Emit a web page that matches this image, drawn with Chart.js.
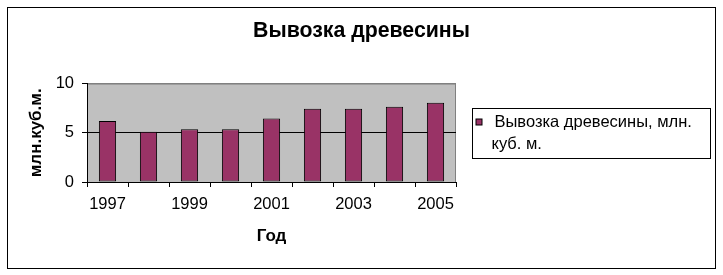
<!DOCTYPE html>
<html lang="ru">
<head>
<meta charset="utf-8">
<title>Вывозка древесины</title>
<script src="https://cdn.jsdelivr.net/npm/chart.js@4"></script>
<style>
  html, body { margin: 0; padding: 0; background: #fff; }
  #wrap { position: relative; width: 723px; height: 275px; }
</style>
</head>
<body>
<div id="wrap"><canvas id="chart"></canvas></div>
<script>
// data
const years = ["1997", "1998", "1999", "2000", "2001", "2002", "2003", "2004", "2005"];
const volumes = [6.2, 5.1, 5.35, 5.35, 6.45, 7.45, 7.45, 7.65, 8.05];
const yTicks = [0, 5, 10];
const chartTitle = "Вывозка древесины";
const seriesLabel = "Вывозка древесины, млн. куб. м.";
const xTitle = "Год";
const yTitle = "млн.куб.м.";

const FONT = "'Liberation Sans', Arial, sans-serif";
const BAR = "#993366";
const PLOT_BG = "#c0c0c0";

// white page, outer frame and grey plot area
const frame = {
  id: "frame",
  beforeDraw(chart) {
    const { ctx, chartArea: a } = chart;
    ctx.save();
    ctx.fillStyle = "#fff";
    ctx.fillRect(0, 0, chart.width, chart.height);
    ctx.strokeStyle = "#000";
    ctx.lineWidth = 1;
    ctx.strokeRect(7.5, 7.5, 708, 261);
    ctx.fillStyle = PLOT_BG;
    ctx.fillRect(a.left, a.top, a.right - a.left, a.bottom - a.top);
    ctx.strokeStyle = "#808080";
    ctx.beginPath();
    ctx.moveTo(a.left, a.top + 0.5);
    ctx.lineTo(a.right - 0.5, a.top + 0.5);
    ctx.lineTo(a.right - 0.5, a.bottom);
    ctx.stroke();
    ctx.restore();
  },
};

// legend in a boxed panel to the right of the plot
function drawLegend(chart, box) {
  const { ctx, chartArea: a } = chart;
  const ds = chart.data.datasets[0];
  const left = box.left + 16.5;
  const w = 238, h = 50;
  const top = Math.round((a.top + a.bottom) / 2 - h / 2) + 0.5;
  ctx.save();
  ctx.strokeStyle = "#000";
  ctx.lineWidth = 1;
  ctx.strokeRect(left, top, w, h);

  ctx.font = "16.5px " + FONT;
  ctx.textBaseline = "middle";
  ctx.fillStyle = "#000";
  const words = ds.label.split(" ");
  const lines = [];
  let cur = "";
  for (const wd of words) {
    const t = cur ? cur + " " + wd : wd;
    if (cur && ctx.measureText(t).width > 208) {
      lines.push(cur);
      cur = wd;
    } else cur = t;
  }
  if (cur) lines.push(cur);
  const y0 = top + 14;
  lines.forEach((ln, i) => {
    ctx.fillText(ln, i === 0 ? left + 22 : left + 19, y0 + i * 22);
  });

  ctx.fillStyle = ds.backgroundColor;
  ctx.fillRect(left + 3.5, y0 - 3.5, 6, 6);
  ctx.strokeRect(left + 3.5, y0 - 3.5, 6, 6);
  ctx.restore();
}

const legendPanel = {
  id: "legendPanel",
  beforeInit(chart) {
    const box = {
      position: "right",
      weight: 0,
      fullSize: false,
      options: {},
      top: 0, left: 0, right: 0, bottom: 0, width: 0, height: 0,
      isHorizontal() { return false; },
      update(maxWidth, maxHeight) { this.width = 267; this.height = maxHeight; },
      draw() { drawLegend(chart, this); },
    };
    Chart.layouts.addBox(chart, box);
  },
};

new Chart(document.getElementById("chart"), {
  type: "bar",
  data: {
    labels: years,
    datasets: [{
      label: seriesLabel,
      data: volumes,
      backgroundColor: BAR,
      borderColor: "#000",
      borderWidth: 1,
      borderSkipped: false,
      categoryPercentage: 1,
      barPercentage: 0.42,
    }],
  },
  options: {
    responsive: true,
    maintainAspectRatio: false,
    animation: false,
    devicePixelRatio: 1,
    layout: { padding: 0 },
    plugins: {
      legend: { display: false },
      tooltip: { enabled: false },
      title: {
        display: true,
        text: chartTitle,
        color: "#000",
        font: { family: FONT, size: 21.3, weight: "bold" },
        padding: { top: 18, bottom: 40 },
      },
    },
    scales: {
      x: {
        afterFit(s) { s.height = 93; },
        grid: { drawOnChartArea: false, drawTicks: true, tickLength: 5, color: "#000" },
        border: { color: "#000", width: 1 },
        ticks: {
          autoSkip: false,
          maxRotation: 0,
          padding: 8,
          color: "#000",
          font: { family: FONT, size: 16.5 },
          callback: (v, i) => (i % 2 === 0 ? years[i] : ""),
        },
        title: {
          display: true,
          text: xTitle,
          color: "#000",
          font: { family: FONT, size: 17, weight: "bold" },
          padding: { top: 0, bottom: 28 },
        },
      },
      y: {
        min: 0,
        max: 10,
        afterFit(s) { s.width = 87; },
        afterBuildTicks(s) { s.ticks = yTicks.map(v => ({ value: v })); },
        grid: {
          drawTicks: true,
          tickLength: 5,
          color: c => (c.tick && c.tick.value === 10 ? "#808080" : "#000"),
          tickColor: "#000",
        },
        border: { color: "#000", width: 1 },
        ticks: {
          padding: 8,
          color: "#000",
          font: { family: FONT, size: 16.5 },
        },
        title: {
          display: true,
          text: yTitle,
          color: "#000",
          font: { family: FONT, size: 17, weight: "bold" },
          padding: { top: 26, bottom: 0 },
        },
      },
    },
  },
  plugins: [frame, legendPanel],
});
</script>
</body>
</html>
